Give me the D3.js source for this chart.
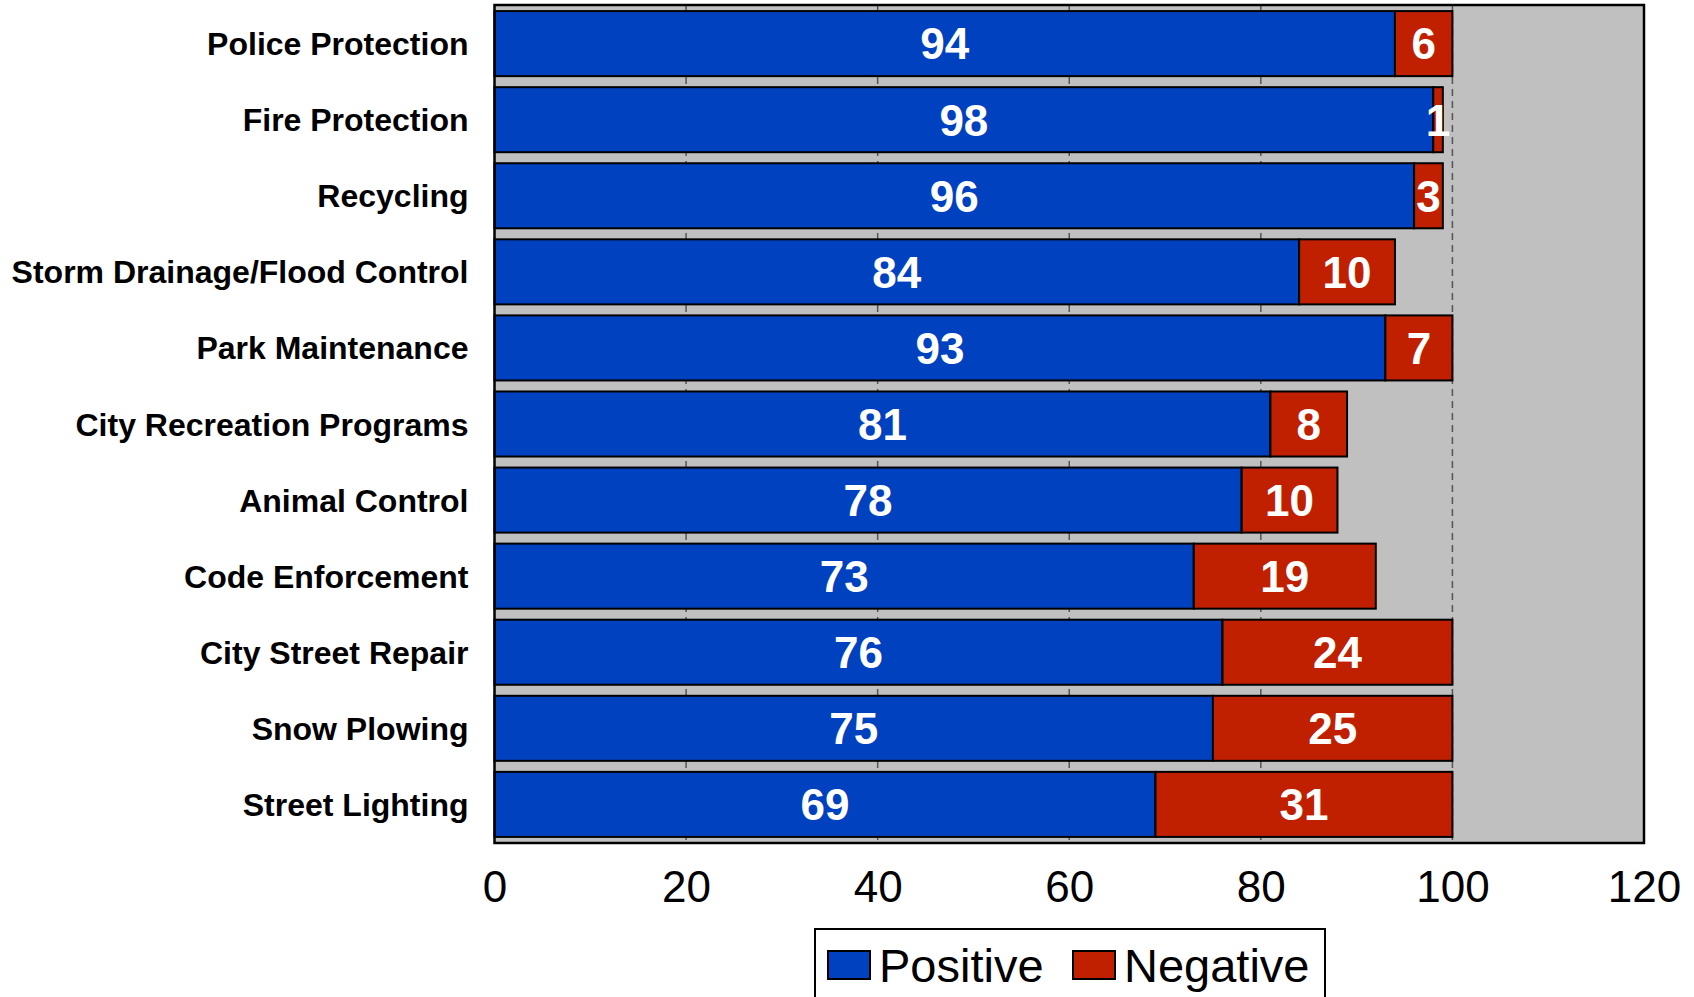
<!DOCTYPE html>
<html lang="en">
<head>
<meta charset="utf-8" />
<script src="https://d3js.org/d3.v7.min.js"></script>
<style>
body { margin: 0; background: #fff; }
svg text { font-family: 'Liberation Sans', Arial, sans-serif; }
.cat { font-size: 32px; font-weight: bold; fill: #000; }
.val { font-size: 44px; font-weight: bold; fill: #fff; }
.tick text { font-size: 44px; }
.legend text { font-size: 47px; }
</style>
</head>
<body>
<div id="chart"></div>
<script>
var services = ["Police Protection", "Fire Protection", "Recycling", "Storm Drainage/Flood Control",
  "Park Maintenance", "City Recreation Programs", "Animal Control", "Code Enforcement",
  "City Street Repair", "Snow Plowing", "Street Lighting"];
var positive = [94, 98, 96, 84, 93, 81, 78, 73, 76, 75, 69];
var negative = [6, 1, 3, 10, 7, 8, 10, 19, 24, 25, 31];
var xTicks = [0, 20, 40, 60, 80, 100, 120];
var seriesNames = ["Positive", "Negative"];
var colors = ["#0041c0", "#c02000"];

var width = 1694, height = 997;
var plotLeft = 494.5, plotRight = 1644, plotTop = 5, plotBottom = 843;

var svg = d3.select('#chart').append('svg')
  .attr('width', width)
  .attr('height', height);

var x = d3.scaleLinear().domain([0, 120]).range([plotLeft, plotRight]);
var y = d3.scaleBand().domain(services).range([plotTop, plotBottom])
  .paddingInner(0.145).paddingOuter(0.08);

// plot background
svg.append('rect')
  .attr('x', plotLeft).attr('y', plotTop)
  .attr('width', plotRight - plotLeft).attr('height', plotBottom - plotTop)
  .attr('fill', '#c0c0c0');

// dashed gridlines
svg.selectAll('.grid')
  .data(xTicks.filter(function(t) { return t > 0 && t < 120; }))
  .enter().append('line')
  .attr('x1', function(d) { return x(d); })
  .attr('x2', function(d) { return x(d); })
  .attr('y1', plotTop).attr('y2', plotBottom)
  .attr('stroke', '#555')
  .attr('stroke-width', 1.5)
  .attr('stroke-dasharray', '7,5');

var rows = services.map(function(s, i) {
  return { name: s, pos: positive[i], neg: negative[i] };
});

var stack = d3.stack().keys(["pos", "neg"])(rows);

stack.forEach(function(layer, k) {
  var g = svg.append('g');
  g.selectAll('rect')
    .data(layer)
    .enter().append('rect')
    .attr('x', function(d) { return x(d[0]); })
    .attr('y', function(d) { return y(d.data.name); })
    .attr('width', function(d) { return x(d[1]) - x(d[0]); })
    .attr('height', y.bandwidth())
    .attr('fill', colors[k])
    .attr('stroke', '#000')
    .attr('stroke-width', 2);
  g.selectAll('text')
    .data(layer)
    .enter().append('text')
    .attr('class', 'val')
    .attr('x', function(d) { return (x(d[0]) + x(d[1])) / 2; })
    .attr('y', function(d) { return y(d.data.name) + y.bandwidth() / 2; })
    .attr('dy', '0.36em')
    .attr('text-anchor', 'middle')
    .text(function(d) { return d[1] - d[0]; });
});

// frame
svg.append('rect')
  .attr('x', plotLeft).attr('y', plotTop)
  .attr('width', plotRight - plotLeft).attr('height', plotBottom - plotTop)
  .attr('fill', 'none')
  .attr('stroke', '#000')
  .attr('stroke-width', 2.5);

// category labels
svg.selectAll('.cat')
  .data(services)
  .enter().append('text')
  .attr('class', 'cat')
  .attr('x', plotLeft - 26)
  .attr('y', function(d) { return y(d) + y.bandwidth() / 2; })
  .attr('dy', '0.36em')
  .attr('text-anchor', 'end')
  .text(function(d) { return d; });

// x axis
var xAxis = svg.append('g')
  .attr('transform', 'translate(0,' + plotBottom + ')')
  .call(d3.axisBottom(x).tickValues(xTicks).tickSize(0).tickPadding(28));
xAxis.select('.domain').remove();
xAxis.selectAll('text').attr('fill', '#000');

// legend
var lg = svg.append('g').attr('class', 'legend');
lg.append('rect')
  .attr('x', 815).attr('y', 929)
  .attr('width', 510).attr('height', 90)
  .attr('fill', '#fff')
  .attr('stroke', '#000')
  .attr('stroke-width', 2);
var legX = [828, 1073];
var item = lg.selectAll('.item')
  .data(seriesNames)
  .enter().append('g')
  .attr('transform', function(d, i) { return 'translate(' + legX[i] + ',951)'; });
item.append('rect')
  .attr('width', 42).attr('height', 28)
  .attr('fill', function(d, i) { return colors[i]; })
  .attr('stroke', '#000')
  .attr('stroke-width', 2);
item.append('text')
  .attr('x', 51)
  .attr('y', 31)
  .text(function(d) { return d; });
</script>
</body>
</html>
